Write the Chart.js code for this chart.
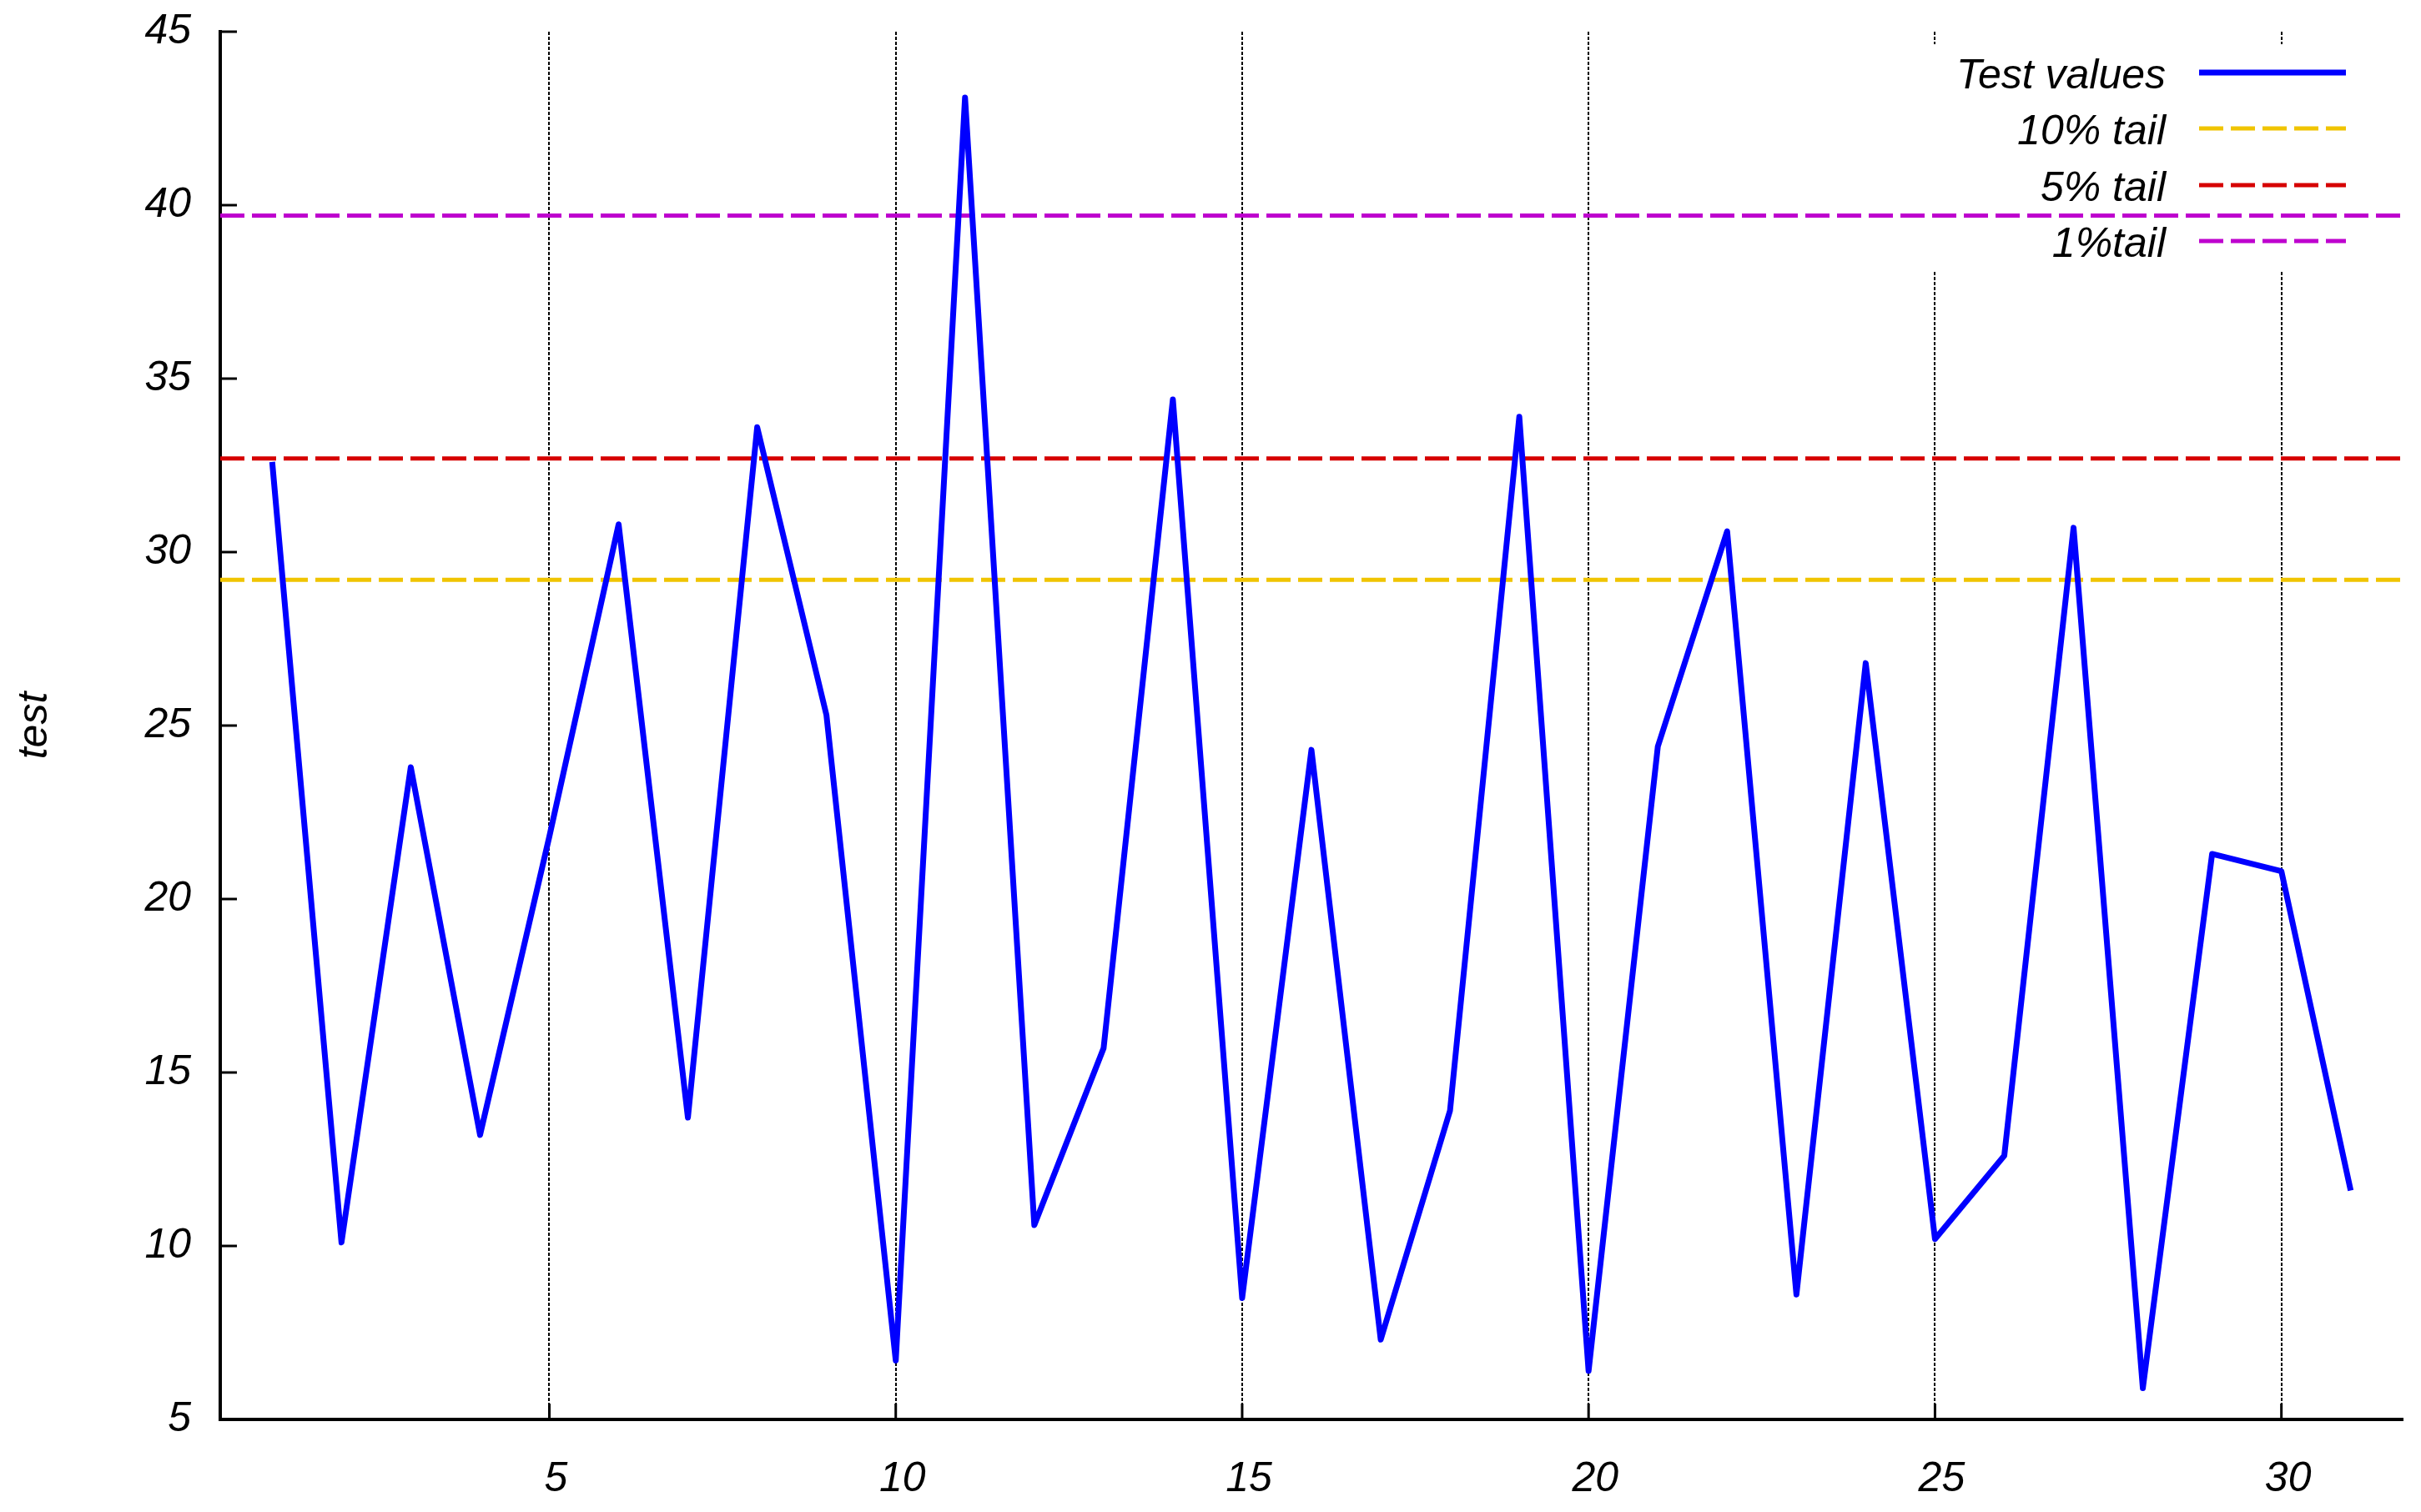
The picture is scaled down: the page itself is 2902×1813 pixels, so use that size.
<!DOCTYPE html>
<html>
<head>
<meta charset="utf-8">
<script src="https://cdn.jsdelivr.net/npm/chart.js@4/dist/chart.umd.min.js"></script>
<style>
  html, body { margin: 0; padding: 0; background: #ffffff; }
  #wrap { width: 2902px; height: 1813px; }
</style>
</head>
<body>
<div id="wrap"><canvas id="c" width="2902" height="1813"></canvas></div>
<script>
// ---- data ----
const xValues = [1,2,3,4,5,6,7,8,9,10,11,12,13,14,15,16,17,18,19,20,21,22,23,24,25,26,27,28,29,30,31];
const testValues = [32.6,10.1,23.8,13.2,21.8,30.8,13.7,33.6,25.3,6.7,43.1,10.6,15.7,34.4,8.5,24.3,7.3,13.9,33.9,6.4,24.4,30.6,8.6,26.8,10.2,12.6,30.7,5.9,21.3,20.8,11.6];
const tailLabels = ['10% tail', '5% tail', '1%tail'];
const tailLevels = [29.2, 32.7, 39.7];
const tailColors = ['#F0C400', '#D60000', '#BE00CE'];
const seriesLabel = 'Test values';
const xTickValues = [5, 10, 15, 20, 25, 30];
const yTickValues = [5, 10, 15, 20, 25, 30, 35, 40, 45];
const yTitle = 'test';

// ---- axis bounds ----
const X_MIN = 0.25, X_MAX = 31.75, Y_MIN = 5, Y_MAX = 45;

const FONT = 'Liberation Sans, Arial, sans-serif';

const datasets = [{
  label: seriesLabel,
  data: xValues.map((x, i) => ({ x: x, y: testValues[i] })),
  borderColor: '#0000FF',
  borderWidth: 7,
  borderJoinStyle: 'round',
  pointRadius: 0,
  tension: 0,
  fill: false,
  order: 0
}];
tailLevels.forEach((v, i) => {
  datasets.push({
    label: tailLabels[i],
    data: [{ x: X_MIN, y: v }, { x: X_MAX, y: v }],
    borderColor: tailColors[i],
    borderWidth: 5,
    borderDash: [29, 9],
    pointRadius: 0,
    tension: 0,
    fill: false,
    order: 1
  });
});

// legend drawn inside plot area, text left of sample line
const insideLegend = {
  id: 'insideLegend',
  beforeDatasetsDraw(chart) {
    const ctx = chart.ctx;
    ctx.save();
    ctx.fillStyle = '#ffffff';
    ctx.fillRect(2290, 53, chart.chartArea.right - 2290, 272);
    ctx.restore();
  },
  afterDatasetsDraw(chart) {
    const ctx = chart.ctx;
    const ds = chart.data.datasets;
    ctx.save();
    ctx.font = 'italic 50px ' + FONT;
    ctx.textAlign = 'right';
    ctx.textBaseline = 'alphabetic';
    const rowY = [87, 154, 222, 289];
    ds.forEach((d, i) => {
      const y = rowY[i];
      ctx.fillStyle = '#000000';
      ctx.fillText(d.label, 2596, y + 19);
      ctx.strokeStyle = d.borderColor;
      ctx.lineWidth = d.borderWidth;
      ctx.setLineDash(d.borderDash || []);
      ctx.lineCap = 'butt';
      ctx.beginPath();
      ctx.moveTo(2636, y);
      ctx.lineTo(2812, y);
      ctx.stroke();
    });
    ctx.restore();
  }
};

// inward tick marks
const inwardTicks = {
  id: 'inwardTicks',
  afterDraw(chart) {
    const ctx = chart.ctx;
    const xs = chart.scales.x, ys = chart.scales.y;
    const ca = chart.chartArea;
    ctx.save();
    ctx.strokeStyle = '#000000';
    ctx.lineWidth = 3;
    ctx.setLineDash([]);
    ys.ticks.forEach(t => {
      const py = ys.getPixelForValue(t.value);
      ctx.beginPath();
      ctx.moveTo(ca.left, py);
      ctx.lineTo(ca.left + 20, py);
      ctx.stroke();
    });
    xs.ticks.forEach(t => {
      const px = xs.getPixelForValue(t.value);
      ctx.beginPath();
      ctx.moveTo(px, ca.bottom);
      ctx.lineTo(px, ca.bottom - 19);
      ctx.stroke();
    });
    ctx.restore();
  }
};

new Chart(document.getElementById('c'), {
  type: 'line',
  data: { datasets: datasets },
  plugins: [insideLegend, inwardTicks],
  options: {
    responsive: false,
    devicePixelRatio: 1,
    animation: false,
    layout: { padding: { top: 38, right: 22, left: 0, bottom: 0 } },
    plugins: {
      legend: { display: false },
      tooltip: { enabled: false }
    },
    scales: {
      x: {
        type: 'linear',
        min: X_MIN,
        max: X_MAX,
        afterBuildTicks(scale) { scale.ticks = xTickValues.map(v => ({ value: v })); },
        afterFit(scale) { scale.height = 111; scale.paddingLeft = 0; scale.paddingRight = 0; },
        ticks: {
          color: '#000000',
          padding: 42,
          labelOffset: 8,
          maxRotation: 0,
          autoSkip: false,
          font: { family: FONT, size: 50, style: 'italic' }
        },
        grid: {
          display: true,
          drawTicks: false,
          color: '#000000',
          lineWidth: 2
        },
        border: { display: true, color: '#000000', width: 4, dash: [4, 2] }
      },
      y: {
        type: 'linear',
        min: Y_MIN,
        max: Y_MAX,
        afterBuildTicks(scale) { scale.ticks = yTickValues.map(v => ({ value: v })); },
        afterFit(scale) { scale.width = 264; scale.paddingTop = 0; scale.paddingBottom = 0; },
        ticks: {
          color: '#000000',
          padding: 35,
          autoSkip: false,
          font: { family: FONT, size: 50, style: 'italic' }
        },
        grid: { display: false, drawTicks: false },
        border: { display: true, color: '#000000', width: 4 },
        title: {
          display: true,
          text: yTitle,
          color: '#000000',
          padding: { top: 12, bottom: 0 },
          font: { family: FONT, size: 50, style: 'italic' }
        }
      }
    }
  }
});
</script>
</body>
</html>
